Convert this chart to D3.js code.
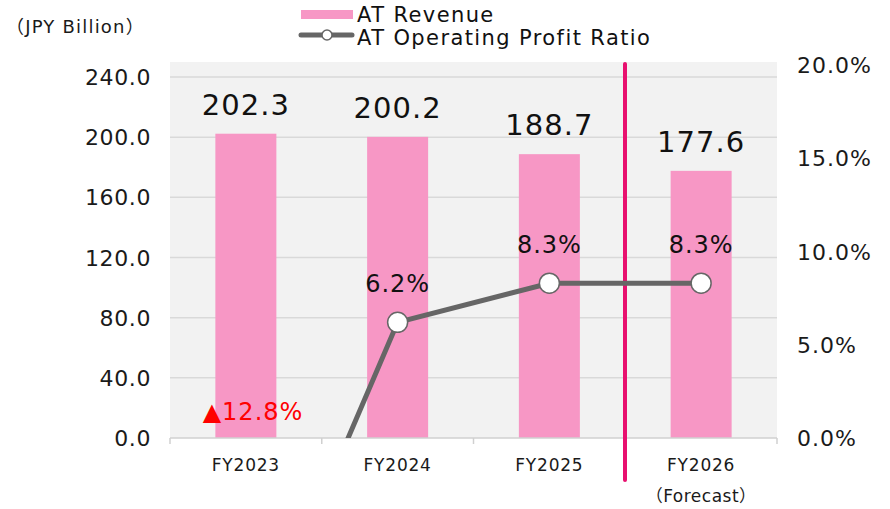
<!DOCTYPE html>
<html>
<head>
<meta charset="utf-8">
<script src="https://cdn.jsdelivr.net/npm/d3@7"></script>
<style>
  body { margin: 0; background: #fff; }
  svg { font-family: "DejaVu Sans", "Noto Sans CJK JP", sans-serif; }
</style>
</head>
<body>
<div id="chart"></div>
<script>
// data
var categories = ["FY2023", "FY2024", "FY2025", "FY2026"];
var subLabels = ["", "", "", "（Forecast）"];
var revenue = [202.3, 200.2, 188.7, 177.6];
var profitRatio = [-12.8, 6.2, 8.3, 8.3];
var leftTicks = [0, 40, 80, 120, 160, 200, 240];
var rightTicks = [0, 5, 10, 15, 20];

var width = 890, height = 509;
var plot = { left: 170, right: 777, top: 62, bottom: 438 };

var svg = d3.select("#chart").append("svg")
  .attr("width", width).attr("height", height);

//Scales
var x = d3.scaleBand().domain(categories).range([plot.left, plot.right]).paddingInner(0).paddingOuter(0);
var yLeft = d3.scaleLinear().domain([0, 240]).range([plot.bottom, 77]);
var yRight = d3.scaleLinear().domain([0, 20]).range([plot.bottom, 65]);

// plot background
svg.append("rect")
  .attr("x", plot.left).attr("y", plot.top)
  .attr("width", plot.right - plot.left).attr("height", plot.bottom - plot.top)
  .attr("fill", "#f2f2f2");

// gridlines
svg.append("g").selectAll("line")
  .data(leftTicks.filter(function (d) { return d > 0; }))
  .enter().append("line")
  .attr("x1", plot.left).attr("x2", plot.right)
  .attr("y1", function (d) { return yLeft(d); })
  .attr("y2", function (d) { return yLeft(d); })
  .attr("stroke", "#d9d9d9").attr("stroke-width", 1.5);

// bars
var barW = 61;
svg.append("g").selectAll("rect")
  .data(revenue)
  .enter().append("rect")
  .attr("x", function (d, i) { return x(categories[i]) + x.bandwidth() / 2 - barW / 2; })
  .attr("y", function (d) { return yLeft(d); })
  .attr("width", barW)
  .attr("height", function (d) { return yLeft(0) - yLeft(d); })
  .attr("fill", "#f797c5");

// x axis line + ticks
svg.append("line")
  .attr("x1", plot.left).attr("x2", plot.right)
  .attr("y1", plot.bottom).attr("y2", plot.bottom)
  .attr("stroke", "#d0d0d0").attr("stroke-width", 1.5);
var bounds = categories.map(function (c) { return x(c); }).concat([plot.right]);
svg.append("g").selectAll("line")
  .data(bounds).enter().append("line")
  .attr("x1", function (d) { return d; }).attr("x2", function (d) { return d; })
  .attr("y1", plot.bottom).attr("y2", plot.bottom + 6)
  .attr("stroke", "#d0d0d0").attr("stroke-width", 1.5);

// left axis labels
svg.append("g").selectAll("text")
  .data(leftTicks).enter().append("text")
  .attr("x", 151)
  .attr("y", function (d) { return yLeft(d) + 8; })
  .attr("text-anchor", "end")
  .attr("font-size", 22)
  .attr("letter-spacing", 0.6)
  .attr("fill", "#1a1a1a")
  .text(function (d) { return d.toFixed(1); });

// right axis labels
svg.append("g").selectAll("text")
  .data(rightTicks).enter().append("text")
  .attr("x", 797)
  .attr("y", function (d) { return yRight(d) + 8; })
  .attr("font-size", 22)
  .attr("letter-spacing", 1)
  .attr("fill", "#1a1a1a")
  .text(function (d) { return d.toFixed(1) + "%"; });

// category labels
svg.append("g").selectAll("text")
  .data(categories).enter().append("text")
  .attr("x", function (d) { return x(d) + x.bandwidth() / 2; })
  .attr("y", 471)
  .attr("text-anchor", "middle")
  .attr("font-size", 17)
  .attr("letter-spacing", 0.8)
  .attr("fill", "#1a1a1a")
  .text(function (d) { return d; });
svg.append("g").selectAll("text")
  .data(subLabels).enter().append("text")
  .attr("x", function (d, i) { return x(categories[i]) + x.bandwidth() / 2; })
  .attr("y", 502)
  .attr("text-anchor", "middle")
  .attr("font-size", 17)
  .attr("letter-spacing", 0.5)
  .attr("fill", "#1a1a1a")
  .text(function (d) { return d; });

// bar value labels
svg.append("g").selectAll("text")
  .data(revenue).enter().append("text")
  .attr("x", function (d, i) { return x(categories[i]) + x.bandwidth() / 2; })
  .attr("y", function (d) { return yLeft(d) - 19; })
  .attr("text-anchor", "middle")
  .attr("font-size", 29)
  .attr("letter-spacing", 1)
  .attr("fill", "#111")
  .text(function (d) { return d.toFixed(1); });

// forecast divider
svg.append("line")
  .attr("x1", 625).attr("x2", 625)
  .attr("y1", 64).attr("y2", 480)
  .attr("stroke", "#e8106f").attr("stroke-width", 4)
  .attr("stroke-linecap", "round");

// profit ratio line (clipped to plot)
svg.append("clipPath").attr("id", "plotClip")
  .append("rect")
  .attr("x", plot.left).attr("y", 0)
  .attr("width", plot.right - plot.left).attr("height", plot.bottom);

var pts = profitRatio.map(function (d, i) {
  return { x: x(categories[i]) + x.bandwidth() / 2, y: yRight(d), v: d };
});
var line = d3.line().x(function (d) { return d.x; }).y(function (d) { return d.y; });
var lineG = svg.append("g").attr("clip-path", "url(#plotClip)");
lineG.append("path")
  .datum(pts)
  .attr("d", line)
  .attr("fill", "none")
  .attr("stroke", "#666")
  .attr("stroke-width", 5);
lineG.selectAll("circle")
  .data(pts.filter(function (d) { return d.v >= 0; }))
  .enter().append("circle")
  .attr("cx", function (d) { return d.x; })
  .attr("cy", function (d) { return d.y; })
  .attr("r", 10)
  .attr("fill", "#fff")
  .attr("stroke", "#666")
  .attr("stroke-width", 1.5);

// ratio labels
svg.append("g").selectAll("text")
  .data(pts).enter().append("text")
  .attr("x", function (d) { return d.v >= 0 ? d.x : 253; })
  .attr("y", function (d) { return d.v >= 0 ? d.y - 30 : 420; })
  .attr("text-anchor", "middle")
  .attr("font-size", 24)
  .attr("letter-spacing", 1)
  .attr("fill", function (d) { return d.v >= 0 ? "#111" : "#ff0000"; })
  .text(function (d) { return d.v >= 0 ? d.v.toFixed(1) + "%" : "▲" + Math.abs(d.v).toFixed(1) + "%"; });

// unit label
svg.append("text")
  .attr("x", 6).attr("y", 33)
  .attr("font-size", 18)
  .attr("letter-spacing", 1.2)
  .attr("fill", "#1a1a1a")
  .text("（JPY Billion）");

// legend
var lg = svg.append("g");
lg.append("rect").attr("x", 301).attr("y", 10).attr("width", 52).attr("height", 9).attr("fill", "#f797c5");
lg.append("text").attr("x", 357).attr("y", 22).attr("font-size", 21).attr("letter-spacing", 1.4).attr("fill", "#111").text("AT Revenue");
lg.append("line").attr("x1", 301).attr("x2", 352).attr("y1", 35).attr("y2", 35)
  .attr("stroke", "#666").attr("stroke-width", 5).attr("stroke-linecap", "round");
lg.append("circle").attr("cx", 327).attr("cy", 35).attr("r", 5)
  .attr("fill", "#fff").attr("stroke", "#666").attr("stroke-width", 1.5);
lg.append("text").attr("x", 357).attr("y", 45).attr("font-size", 21).attr("letter-spacing", 1.4).attr("fill", "#111").text("AT Operating Profit Ratio");
</script>
</body>
</html>
